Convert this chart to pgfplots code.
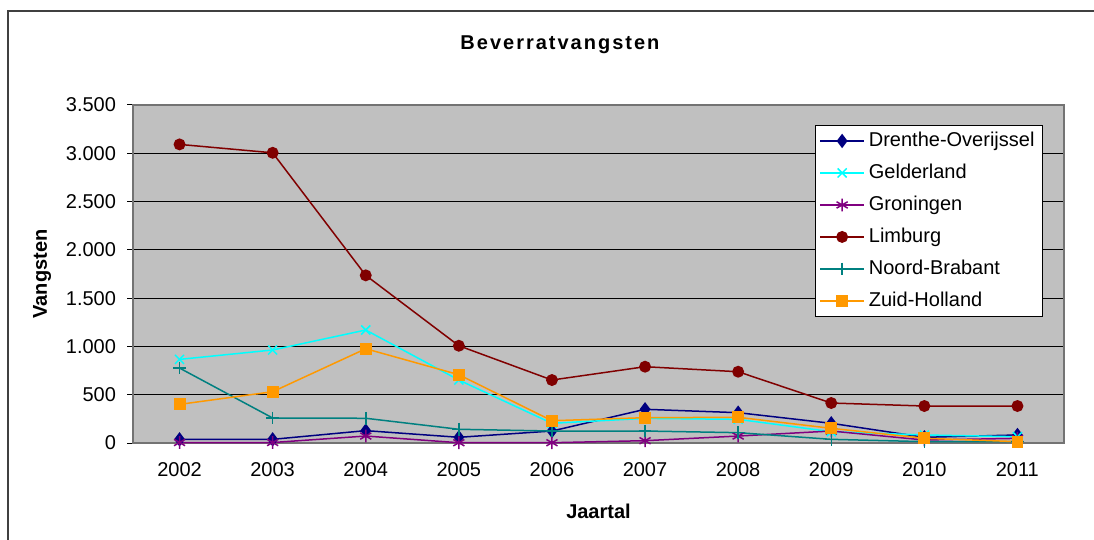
\documentclass[border=0pt]{standalone}
\usepackage{fontspec}
\setmainfont{Liberation Sans}
\usepackage{pgfplots}
\pgfplotsset{compat=1.18}
\definecolor{cNavy}{HTML}{000080}
\definecolor{cCyan}{HTML}{00FFFF}
\definecolor{cPurple}{HTML}{800080}
\definecolor{cDarkRed}{HTML}{800000}
\definecolor{cTeal}{HTML}{008080}
\definecolor{cOrange}{HTML}{FF9900}
\definecolor{cBack}{HTML}{C0C0C0}
\begin{document}
\begin{tikzpicture}
\path[use as bounding box] (0,0) rectangle (547bp,270bp);
\draw[line width=1bp, black!75] (4bp,-2bp) -- (4bp,264.5bp) -- (560bp,264.5bp);
\begin{axis}[
  at={(66.5bp,48.5bp)}, anchor=south west,
  scale only axis, width=465.5bp, height=169bp,
  font=\fontsize{10bp}{12bp}\selectfont,
  xmin=2001.5, xmax=2011.5, ymin=0, ymax=3500,
  xtick={2002,...,2011},
  xticklabels={2002,2003,2004,2005,2006,2007,2008,2009,2010,2011},
  x tick style={draw=none},
  extra x ticks={2002.5,2003.5,2004.5,2005.5,2006.5,2007.5,2008.5,2009.5,2010.5},
  extra x tick labels={},
  extra x tick style={tick style={draw=black!60, line width=0.6bp}, major tick length=3bp, tick align=outside},
  ytick={0,500,...,3500},
  scaled y ticks=false,
  /pgf/number format/.cd, 1000 sep={.}, assume math mode=true, /pgfplots/.cd,
  y tick style={draw=black, line width=0.5bp}, major tick length=3bp, tick align=outside,
  ytick pos=left, xtick pos=bottom,
  yticklabel style={anchor=east, xshift=-2bp},
  xticklabel style={yshift=-3bp},
  ymajorgrids, major grid style={black, line width=0.5bp},
  axis background/.style={fill=cBack},
  axis line style={draw=black!55, line width=0.6bp},
  xlabel={\textbf{Jaartal}},
  xlabel style={at={(axis description cs:0.5,-0.2012)}, anchor=center},
  ylabel={\textbf{Vangsten}},
  ylabel style={at={(axis description cs:-0.0977,0.5)}, rotate=0, anchor=center},
  legend style={at={(0.9774,0.941)}, anchor=north east, draw=black, line width=0.5bp, fill=white,
    font=\fontsize{10bp}{12bp}\selectfont, row sep=6.5bp, inner xsep=2bp, inner ysep=3bp,
    nodes={inner ysep=0pt, text height=7.5bp, text depth=2bp}},
  legend cell align=left,
  legend image code/.code={\draw[mark repeat=2,mark phase=2] plot coordinates {(0bp,0bp) (11bp,0bp) (22bp,0bp)};},
  every axis plot/.append style={line width=0.75bp},
  clip=false,
]
\addplot[color=cNavy, mark=diamond*, mark size=3bp, mark options={fill=cNavy}] coordinates {
(2002,38) (2003,38) (2004,128) (2005,59) (2006,124) (2007,349) (2008,314) (2009,204) (2010,59) (2011,83)};
\addlegendentry{Drenthe-Overijssel}
\addplot[color=cCyan, mark=x, mark size=3.2bp] coordinates {
(2002,866) (2003,963) (2004,1170) (2005,652) (2006,204) (2007,255) (2008,245) (2009,117) (2010,83) (2011,65)};
\addlegendentry{Gelderland}
\addplot[color=cPurple, mark=asterisk, mark size=3.2bp] coordinates {
(2002,5) (2003,5) (2004,72) (2005,3) (2006,3) (2007,24) (2008,72) (2009,124) (2010,31) (2011,48)};
\addlegendentry{Groningen}
\addplot[color=cDarkRed, mark=*, mark size=2.6bp, mark options={fill=cDarkRed}] coordinates {
(2002,3092) (2003,3005) (2004,1736) (2005,1007) (2006,652) (2007,790) (2008,738) (2009,414) (2010,383) (2011,383)};
\addlegendentry{Limburg}
\addplot[color=cTeal, mark=+, mark size=3.2bp] coordinates {
(2002,776) (2003,259) (2004,256) (2005,142) (2006,124) (2007,124) (2008,107) (2009,38) (2010,14) (2011,14)};
\addlegendentry{Noord-Brabant}
\addplot[color=cOrange, mark=square*, mark size=2.6bp, mark options={fill=cOrange}] coordinates {
(2002,400) (2003,531) (2004,976) (2005,707) (2006,231) (2007,262) (2008,266) (2009,152) (2010,49) (2011,14)};
\addlegendentry{Zuid-Holland}
\node[font=\fontsize{10bp}{12bp}\selectfont\bfseries\addfontfeature{LetterSpace=10}, anchor=center]
  at (rel axis cs:0.4586,1.1775) {Beverratvangsten};
\end{axis}
\end{tikzpicture}
\end{document}
